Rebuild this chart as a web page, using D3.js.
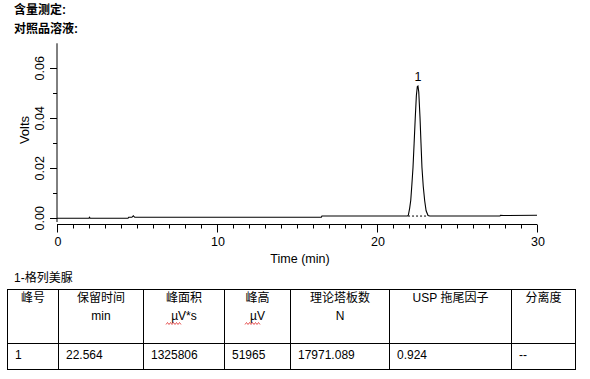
<!DOCTYPE html>
<html>
<head>
<meta charset="utf-8">
<script src="https://cdn.jsdelivr.net/npm/d3@7"></script>
<style>
  body { margin: 0; background: #fff; }
  svg { display: block; }
  text { font-family: "Liberation Sans", Arial, "Noto Sans CJK SC", sans-serif; fill: #000; }
</style>
</head>
<body>
<svg id="chart" width="590" height="379"></svg>
<script>
// chromatogram trace (minutes, volts)
var traceTime  = [0, 2.00, 2.03, 2.08, 4.44, 4.48, 4.68, 4.77, 4.86, 16.52, 16.56,
                  21.90, 21.96, 22.04, 22.11, 22.18, 22.25, 22.32, 22.39, 22.46, 22.52, 22.56,
                  22.61, 22.69, 22.75, 22.81, 22.89, 22.98, 23.07, 23.19, 23.30,
                  27.68, 27.72, 27.90, 30];
var traceVolts = [0.0000, 0.0000, 0.0004, 0.0000, 0.0000, 0.0004, 0.0004, 0.0010, 0.0004, 0.0004, 0.0009,
                  0.0009, 0.0013, 0.0040, 0.0072, 0.0135, 0.0203, 0.0300, 0.0400, 0.0490, 0.0527, 0.0529,
                  0.0505, 0.0400, 0.0300, 0.0203, 0.0128, 0.0070, 0.0030, 0.0011, 0.0009,
                  0.0009, 0.0012, 0.0011, 0.0012];

var peakNames = ["1"];
var peakTimes = [22.564];
var peakTops = [0.0529];
var peakBaseStart = [21.94];
var peakBaseEnd = [23.19];
var peakBaseLevel = [0.0009];

var timeTicks = [0, 10, 20, 30];
var voltTicks = [0.00, 0.02, 0.04, 0.06];

var tableHead1 = ["峰号", "保留时间", "峰面积", "峰高", "理论塔板数", "USP 拖尾因子", "分离度"];
var tableHead2 = ["", "min", "µV*s", "µV", "N", "", ""];
var tableRow = ["1", "22.564", "1325806", "51965", "17971.089", "0.924", "--"];

var svg = d3.select("#chart");

/************************* TITLES ******************************/
svg.append("text").attr("x", 14).attr("y", 14)
  .style("font-size", "12px").style("font-weight", "bold").text("含量测定:");
svg.append("text").attr("x", 14).attr("y", 33)
  .style("font-size", "12px").style("font-weight", "bold").text("对照品溶液:");

/************************* CHART ******************************/
var x = d3.scaleLinear().domain([0, 30]).range([57, 537]);
var y = d3.scaleLinear().domain([0, 0.07]).range([218.3, 43.3]);

// y axis
var yAxis = svg.append("g").attr("transform", "translate(57,0)");
yAxis.append("line").attr("x1", 0).attr("x2", 0)
  .attr("y1", y(0.07)).attr("y2", y(-0.0015)).attr("stroke", "#000");
yAxis.selectAll(".minor").data(d3.range(1, 7, 2).map(function (d) { return d / 100; }))
  .enter().append("line")
  .attr("x1", -4).attr("x2", 0)
  .attr("y1", function (d) { return Math.round(y(d)) + 0.5; })
  .attr("y2", function (d) { return Math.round(y(d)) + 0.5; })
  .attr("stroke", "#000");
yAxis.selectAll(".major").data(voltTicks).enter().append("line")
  .attr("x1", -7).attr("x2", 0)
  .attr("y1", function (d) { return Math.round(y(d)) + 0.5; })
  .attr("y2", function (d) { return Math.round(y(d)) + 0.5; })
  .attr("stroke", "#000");
yAxis.selectAll("text").data(voltTicks).enter().append("text")
  .attr("transform", function (d) { return "translate(-13," + y(d) + ") rotate(-90)"; })
  .attr("text-anchor", "middle")
  .style("font-size", "12.5px")
  .text(function (d) { return d3.format(".2f")(d); });

svg.append("text")
  .attr("transform", "translate(28.5," + 130 + ") rotate(-90)")
  .attr("text-anchor", "middle").style("font-size", "13px").text("Volts");

// x axis
var xAxis = svg.append("g").attr("transform", "translate(0,224.5)");
xAxis.append("line").attr("x1", x(0)).attr("x2", x(30)).attr("y1", 0).attr("y2", 0).attr("stroke", "#000");
xAxis.selectAll(".minor").data(d3.range(0, 31)).enter().append("line")
  .attr("x1", function (d) { return Math.round(x(d)) + 0.5; })
  .attr("x2", function (d) { return Math.round(x(d)) + 0.5; })
  .attr("y1", 0)
  .attr("y2", function (d) { return timeTicks.includes(d) ? 8 : 4; })
  .attr("stroke", "#000");
xAxis.selectAll("text").data(timeTicks).enter().append("text")
  .attr("x", function (d) { return x(d) + 1; })
  .attr("y", 21.5)
  .attr("text-anchor", "middle")
  .style("font-size", "12.5px")
  .text(function (d) { return d; });

svg.append("text").attr("x", 300).attr("y", 263)
  .attr("text-anchor", "middle").style("font-size", "12.5px").text("Time (min)");

// trace
var trace = traceTime.map(function (t, i) { return [t, traceVolts[i]]; });
var line = d3.line()
  .x(function (d) { return x(d[0]); })
  .y(function (d) { return y(d[1]); });
svg.append("path").datum(trace)
  .attr("d", line)
  .attr("fill", "none").attr("stroke", "#000").attr("stroke-width", 1.1);

// peak baselines (dashed) and labels
svg.selectAll(".pbase").data(peakNames).enter().append("line")
  .attr("x1", function (d, i) { return x(peakBaseStart[i]); })
  .attr("x2", function (d, i) { return x(peakBaseEnd[i]); })
  .attr("y1", function (d, i) { return y(peakBaseLevel[i]); })
  .attr("y2", function (d, i) { return y(peakBaseLevel[i]); })
  .attr("stroke", "#000").attr("stroke-dasharray", "2,2");
svg.selectAll(".plabel").data(peakNames).enter().append("text")
  .attr("x", function (d, i) { return x(peakTimes[i]); })
  .attr("y", function (d, i) { return y(peakTops[i]) - 5.5; })
  .attr("text-anchor", "middle").style("font-size", "12.5px")
  .text(function (d) { return d; });

/************************* TABLE ******************************/
svg.append("text").attr("x", 14).attr("y", 282).style("font-size", "12px").text("1-格列美脲");

var colEdges = [7, 58, 143, 224, 290, 389, 511, 575];
var rowEdges = [289, 343, 369];
var table = svg.append("g").attr("shape-rendering", "crispEdges");

table.selectAll(".h").data(rowEdges).enter().append("line")
  .attr("x1", colEdges[0]).attr("x2", colEdges[colEdges.length - 1] + 1)
  .attr("y1", function (d) { return d + 0.5; }).attr("y2", function (d) { return d + 0.5; })
  .attr("stroke", "#000");
table.selectAll(".v").data(colEdges).enter().append("line")
  .attr("x1", function (d) { return d + 0.5; }).attr("x2", function (d) { return d + 0.5; })
  .attr("y1", rowEdges[0]).attr("y2", rowEdges[rowEdges.length - 1] + 1)
  .attr("stroke", "#000");

function colMid(i) { return (colEdges[i] + colEdges[i + 1]) / 2 + 0.5; }

svg.selectAll(".head1").data(tableHead1).enter().append("text")
  .attr("x", function (d, i) { return colMid(i); }).attr("y", 302)
  .attr("text-anchor", "middle").style("font-size", "12px")
  .text(function (d) { return d; });
svg.selectAll(".head2").data(tableHead2).enter().append("text")
  .attr("x", function (d, i) { return colMid(i); }).attr("y", 319.5)
  .attr("text-anchor", "middle").style("font-size", "12px")
  .text(function (d) { return d; });
svg.selectAll(".cell").data(tableRow).enter().append("text")
  .attr("x", function (d, i) { return colEdges[i] + 8; }).attr("y", 359)
  .style("font-size", "12px")
  .text(function (d) { return d; });

// red spell-check squiggles under the µV units
[[166, 182], [245, 261]].forEach(function (s) {
  var pts = [];
  for (var px = s[0], k = 0; px <= s[1]; px += 1.5, k++) pts.push([px, 323.5 + (k % 2 ? -1 : 1)]);
  svg.append("path").attr("d", d3.line()(pts))
    .attr("fill", "none").attr("stroke", "#e03030").attr("stroke-width", 0.8);
});
</script>
</body>
</html>
